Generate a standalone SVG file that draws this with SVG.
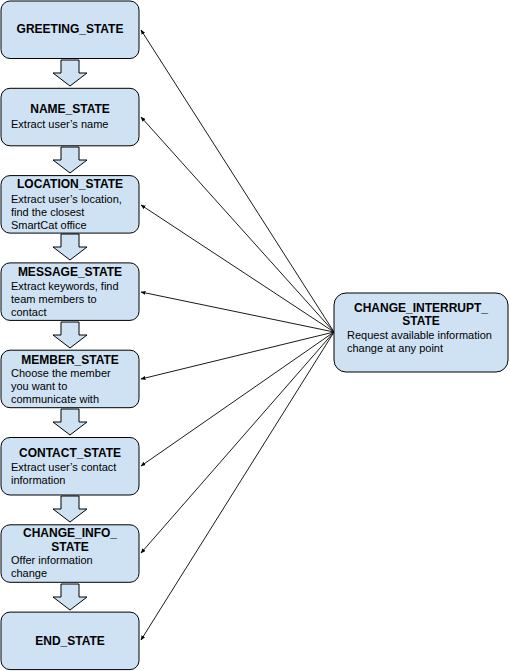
<svg xmlns="http://www.w3.org/2000/svg" width="510" height="671" viewBox="0 0 510 671">
<style>
.box{fill:#cfe2f3;stroke:#000;stroke-width:1}
.ba{fill:#cfe2f3;stroke:#000;stroke-width:1;stroke-linejoin:miter}
.t{font-family:"Liberation Sans",Arial,sans-serif;font-size:12px;font-weight:bold;fill:#000;text-anchor:middle}
.d{font-family:"Liberation Sans",Arial,sans-serif;font-size:11px;fill:#000}
.c{stroke:#000;stroke-width:0.9;fill:none;marker-end:url(#ah)}
</style>
<defs>
<marker id="ah" viewBox="0 0 10 10" refX="9" refY="5" markerWidth="5" markerHeight="5" orient="auto" markerUnits="userSpaceOnUse">
<path d="M0,1 L10,5 L0,9 z" fill="#000"/>
</marker>
<path id="blk" d="M61,0 H79 V13 H87 L70,26 L53,13 H61 Z"/>
</defs>
<g id="connectors">
<use href="#blk" class="ba" x="0" y="60"/>
<use href="#blk" class="ba" x="0" y="147"/>
<use href="#blk" class="ba" x="0" y="234"/>
<use href="#blk" class="ba" x="0" y="322"/>
<use href="#blk" class="ba" x="0" y="409"/>
<use href="#blk" class="ba" x="0" y="496"/>
<use href="#blk" class="ba" x="0" y="584"/>
<line class="c" x1="334" y1="332" x2="141" y2="30"/>
<line class="c" x1="334" y1="332" x2="141" y2="117"/>
<line class="c" x1="334" y1="332" x2="141" y2="205"/>
<line class="c" x1="334" y1="332" x2="141" y2="292"/>
<line class="c" x1="334" y1="332" x2="141" y2="379"/>
<line class="c" x1="334" y1="332" x2="141" y2="466"/>
<line class="c" x1="334" y1="332" x2="141" y2="553"/>
<line class="c" x1="334" y1="332" x2="141" y2="640"/>
</g>
<g id="greeting">
<rect class="box" x="1" y="1" width="138" height="57.5" rx="9"/>
<text class="t" x="70" y="33">GREETING_STATE</text>
</g>
<g id="name">
<rect class="box" x="1" y="88.3" width="138" height="57.5" rx="9"/>
<text class="t" x="70" y="113">NAME_STATE</text>
<text class="d" x="11" y="128">Extract user’s name</text>
</g>
<g id="location">
<rect class="box" x="1" y="175.6" width="138" height="57.5" rx="9"/>
<text class="t" x="70" y="188">LOCATION_STATE</text>
<text class="d" x="11" y="202.5">Extract user’s location,</text>
<text class="d" x="11" y="215.5">find the closest</text>
<text class="d" x="11" y="228.5">SmartCat office</text>
</g>
<g id="message">
<rect class="box" x="1" y="262.9" width="138" height="57.5" rx="9"/>
<text class="t" x="70" y="276">MESSAGE_STATE</text>
<text class="d" x="11" y="290">Extract keywords, find</text>
<text class="d" x="11" y="303">team members to</text>
<text class="d" x="11" y="316">contact</text>
</g>
<g id="member">
<rect class="box" x="1" y="350.2" width="138" height="57.5" rx="9"/>
<text class="t" x="70" y="364">MEMBER_STATE</text>
<text class="d" x="11" y="377">Choose the member</text>
<text class="d" x="11" y="390">you want to</text>
<text class="d" x="11" y="403">communicate with</text>
</g>
<g id="contact">
<rect class="box" x="1" y="437.5" width="138" height="57.5" rx="9"/>
<text class="t" x="70" y="457">CONTACT_STATE</text>
<text class="d" x="11" y="471">Extract user’s contact</text>
<text class="d" x="11" y="484">information</text>
</g>
<g id="change_info">
<rect class="box" x="1" y="524.8" width="138" height="57.5" rx="9"/>
<text class="t" x="70" y="537">CHANGE_INFO_</text>
<text class="t" x="70" y="550.5">STATE</text>
<text class="d" x="11" y="564">Offer information</text>
<text class="d" x="11" y="577">change</text>
</g>
<g id="end">
<rect class="box" x="1" y="612.1" width="138" height="57.5" rx="9"/>
<text class="t" x="70" y="645">END_STATE</text>
</g>
<g id="change_interrupt">
<rect class="box" x="334" y="293" width="174" height="79" rx="12"/>
<text class="t" x="421" y="312">CHANGE_INTERRUPT_</text>
<text class="t" x="421" y="325">STATE</text>
<text class="d" x="347" y="339">Request available information</text>
<text class="d" x="347" y="352">change at any point</text>
</g>
</svg>
